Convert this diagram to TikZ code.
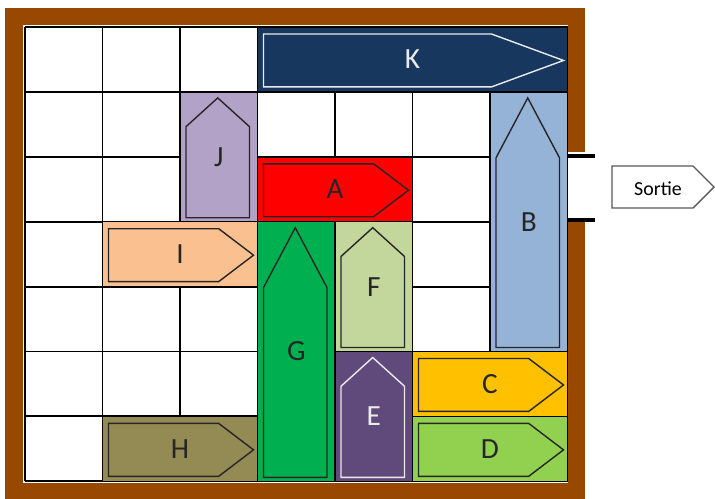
\documentclass[tikz,border=0pt]{standalone}
\usepackage{fontspec}
\setmainfont{Carlito}
\definecolor{frameBrown}{RGB}{153,72,0}
\definecolor{carK}{RGB}{23,55,94}
\definecolor{carJ}{RGB}{179,162,199}
\definecolor{carA}{RGB}{255,0,0}
\definecolor{carB}{RGB}{149,179,215}
\definecolor{carI}{RGB}{250,192,144}
\definecolor{carG}{RGB}{0,176,80}
\definecolor{carF}{RGB}{195,214,155}
\definecolor{carE}{RGB}{96,74,123}
\definecolor{carC}{RGB}{255,192,0}
\definecolor{carD}{RGB}{146,208,80}
\definecolor{carH}{RGB}{148,138,84}
\colorlet{outlineDark}{black!85}
\colorlet{outlineLight}{white!92!black}
\tikzstyle{gridline}=[black, line width=1.6pt]
\tikzstyle{carbox}=[draw=black, line width=1.2pt]
\tikzstyle{carshape}=[line width=1.2pt, line join=miter]
\tikzstyle{carlabel}=[font=\fontsize{25}{25}\selectfont, inner sep=0pt]
\tikzstyle{exitsign}=[draw=black!65, line width=1.2pt, fill=white]

\begin{document}
\begin{tikzpicture}[x=0.03cm, y=-0.03cm]
	\useasboundingbox (0,0) rectangle (715,499);

	% Board frame with the exit gap
	\fill[frameBrown] (5,8) rectangle (585,499);
	\fill[white] (23,25) rectangle (568,483);
	\fill[white] (567,152) rectangle (586,222);
	\draw[line width=3.4pt] (567,156) -- (595,156);
	\draw[line width=3.4pt] (567,220) -- (595,220);

	% Grid 7x7
	\foreach \i in {0,...,7}{
		\pgfmathsetmacro\gxi{25+77.5*\i}
		\pgfmathsetmacro\gyi{27+64.9*\i}
		\draw[gridline] (\gxi,27) -- (\gxi,481.3);
		\draw[gridline] (25,\gyi) -- (567.5,\gyi);
	}

	% Horizontal cars
	\foreach \lbl/\col/\row/\len/\clr/\ln in {K/3/0/4/carK/outlineLight, A/3/2/2/carA/outlineDark,
			I/1/3/2/carI/outlineDark, C/5/5/2/carC/outlineDark, D/5/6/2/carD/outlineDark, H/1/6/2/carH/outlineDark}{
		\pgfmathsetmacro\xa{25+77.5*\col}
		\pgfmathsetmacro\xb{\xa+77.5*\len}
		\pgfmathsetmacro\ya{27+64.9*\row}
		\pgfmathsetmacro\yb{\ya+64.9}
		\pgfmathsetmacro\al{\xa+6}
		\pgfmathsetmacro\ar{\xb-4}
		\pgfmathsetmacro\as{\ar-0.24*(\ar-\al)}
		\pgfmathsetmacro\at{\ya+7}
		\pgfmathsetmacro\ab{\yb-5}
		\pgfmathsetmacro\am{(\at+\ab)/2}
		\fill[\clr, carbox] (\xa,\ya) rectangle (\xb,\yb);
		\draw[carshape, draw=\ln] (\al,\at) -- (\as,\at) -- (\ar,\am) -- (\as,\ab) -- (\al,\ab) -- cycle;
		\node[carlabel, text=\ln] (car-\lbl) at ({(\xa+\xb)/2},{(\ya+\yb)/2}) {\lbl};
	}

	% Vertical cars
	\foreach \lbl/\col/\row/\len/\clr/\ln in {J/2/1/2/carJ/outlineDark, B/6/1/4/carB/outlineDark,
			G/3/3/4/carG/outlineDark, F/4/3/2/carF/outlineDark, E/4/5/2/carE/outlineLight}{
		\pgfmathsetmacro\xa{25+77.5*\col}
		\pgfmathsetmacro\xb{\xa+77.5}
		\pgfmathsetmacro\ya{27+64.9*\row}
		\pgfmathsetmacro\yb{\ya+64.9*\len}
		\pgfmathsetmacro\al{\xa+6}
		\pgfmathsetmacro\ar{\xb-8}
		\pgfmathsetmacro\am{(\al+\ar)/2}
		\pgfmathsetmacro\at{\ya+6}
		\pgfmathsetmacro\ab{\yb-4}
		\pgfmathsetmacro\as{\at+0.24*(\ab-\at)}
		\fill[\clr, carbox] (\xa,\ya) rectangle (\xb,\yb);
		\draw[carshape, draw=\ln] (\am,\at) -- (\ar,\as) -- (\ar,\ab) -- (\al,\ab) -- (\al,\as) -- cycle;
		\node[carlabel, text=\ln] (car-\lbl) at ({(\xa+\xb)/2},{(\ya+\yb)/2}) {\lbl};
	}

	% Exit sign
	\draw[exitsign] (612,166) -- (693,166) -- (714,187) -- (693,208) -- (612,208) -- cycle;
	\node[font=\fontsize{17}{17}\selectfont, inner sep=0pt] (sortie) at (658,189) {Sortie};
\end{tikzpicture}
\end{document}
